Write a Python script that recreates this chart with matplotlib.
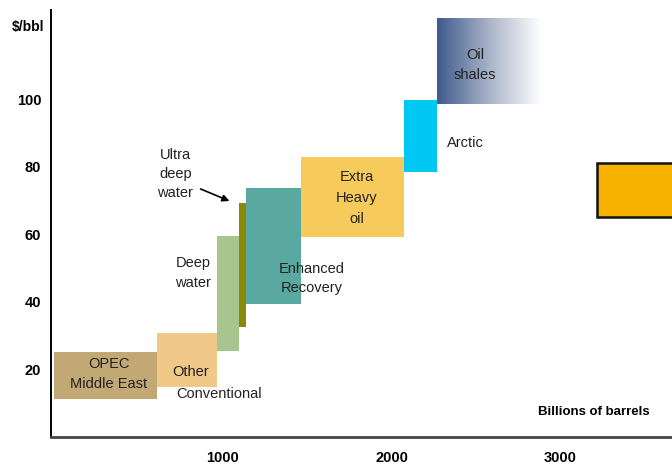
import numpy as np
import matplotlib.pyplot as plt
from matplotlib.colors import LinearSegmentedColormap
from matplotlib.patches import Rectangle

plt.rcParams['font.family'] = ['Liberation Sans', 'DejaVu Sans']

# supply cost curve: cumulative resource (billions of barrels) vs cost ($/bbl)
names = ["OPEC Middle East", "Other Conventional", "Deep water", "Ultra deep water",
         "Enhanced Recovery", "Extra Heavy oil", "Arctic", "Oil shales"]
x_start = [0, 612, 967, 1097, 1139, 1464, 2074, 2269]
x_end = [612, 967, 1097, 1139, 1464, 2074, 2269, 2879]
cost_low = [11.3, 14.8, 25.5, 32.6, 39.4, 59.3, 78.5, 98.7]
cost_high = [25.2, 30.8, 59.6, 69.3, 73.8, 83.0, 99.9, 123.9]
colors = ["#C2A874", "#F0C888", "#A9C58F", "#8A8A0A",
          "#5AA9A0", "#F6CB5C", "#00C8F2", None]

# box at the right margin (partly off the chart)
box_x = [3216, 3700]
box_y = [65.2, 81.2]

xticks = [1000, 2000, 3000]
yticks = [20, 40, 60, 80, 100]

fig = plt.figure(figsize=(6.72, 4.65), dpi=100)
ax = fig.add_axes([51 / 672, 28 / 465, 1 - 51 / 672, (437 - 10) / 465])

for i in range(len(names) - 1):
    ax.bar(x_start[i], cost_high[i] - cost_low[i], width=x_end[i] - x_start[i],
           bottom=cost_low[i], align='edge', color=colors[i], linewidth=0)

# oil shales fade out to white
shale_cmap = LinearSegmentedColormap.from_list("shale", ["#3F5B8C", "#A9B3C8", "#FFFFFF"])
grad = np.linspace(0, 1, 256).reshape(1, -1)
ax.imshow(grad, cmap=shale_cmap, aspect='auto', interpolation='bicubic',
          extent=[x_start[7], x_end[7], cost_low[7], cost_high[7]], zorder=2)
ax.set_xlim(-15, 3660)
ax.set_ylim(0, 126.5)

ax.add_patch(Rectangle((box_x[0], box_y[0]), box_x[1] - box_x[0], box_y[1] - box_y[0],
                       facecolor="#F8B300", edgecolor="#111111", linewidth=1.8, zorder=3))

for s in ["top", "right"]:
    ax.spines[s].set_visible(False)
ax.spines["left"].set_linewidth(1.4)
ax.spines["bottom"].set_linewidth(2.0)
ax.spines["bottom"].set_color("#444444")

ax.set_xticks(xticks)
ax.set_yticks(yticks)
ax.set_xticklabels([str(t) for t in xticks], fontweight='bold', fontsize=10.5)
ax.set_yticklabels([str(t) for t in yticks], fontweight='bold', fontsize=10.5)
ax.tick_params(axis='x', length=0, pad=10)
ax.tick_params(axis='y', length=0, pad=7)

fig.text(44 / 672, 1 - 27 / 465, "$/bbl", ha='right', va='center',
         fontsize=10, fontweight='bold')
ax.text(3198, 7.3, "Billions of barrels", ha='center', va='center',
        fontsize=9.5, fontweight='bold')

lbl = dict(ha='center', va='center', fontsize=10.5, color="#222222")
ax.text(328, 18.7, "OPEC\nMiddle East", linespacing=1.5, **lbl)
ax.text(808, 19.3, "Other", **lbl)
ax.text(979, 12.7, "Conventional", **lbl)
ax.text(826, 48.6, "Deep\nwater", linespacing=1.5, **lbl)
ax.text(1529, 47.0, "Enhanced\nRecovery", linespacing=1.45, **lbl)
ax.text(1796, 70.8, "Extra\nHeavy\noil", linespacing=1.65, **lbl)
ax.text(2435, 87.1, "Arctic", **lbl)
ax.text(2494, 110.1, "Oil\nshales", linespacing=1.55, **lbl)
ax.text(721, 77.9, "Ultra\ndeep\nwater", linespacing=1.45, **lbl)
ax.annotate("", xy=(1056, 69.6), xytext=(855, 73.8),
            arrowprops=dict(arrowstyle='-|>', color='black', lw=1.2, mutation_scale=10))

fig.savefig("out.png", dpi=100)
